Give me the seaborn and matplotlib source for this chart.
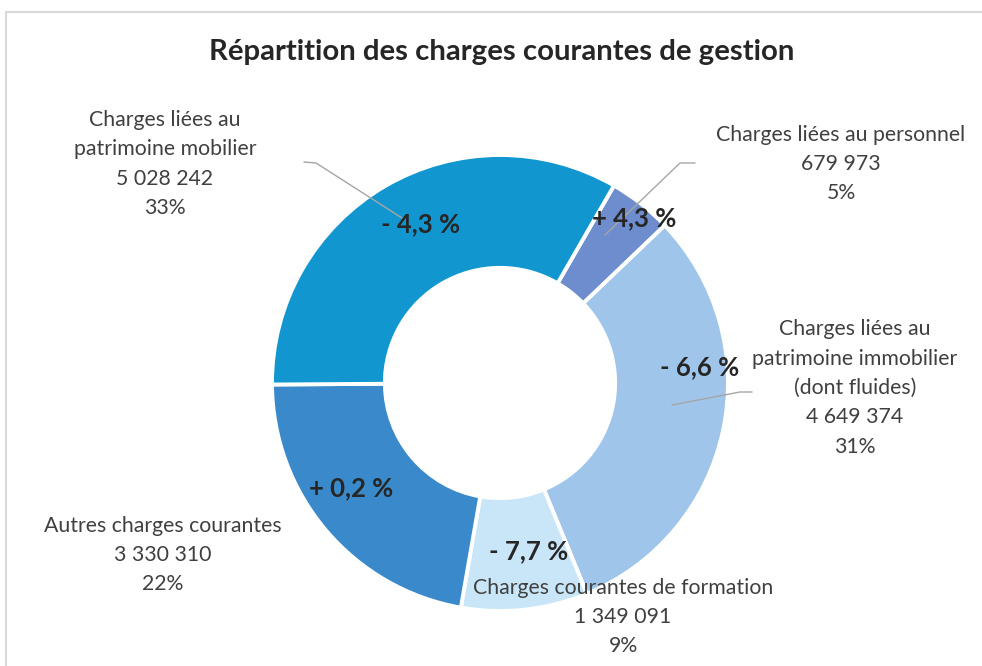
import numpy as np
import matplotlib
matplotlib.use("Agg")
import matplotlib.pyplot as plt
import seaborn as sns
from matplotlib.patches import Rectangle
from matplotlib.lines import Line2D

# ---- data ----
categories = [
    "Charges liées au personnel",
    "Charges liées au\npatrimoine immobilier\n(dont fluides)",
    "Charges courantes de formation",
    "Autres charges courantes",
    "Charges liées au\npatrimoine mobilier",
]
values = [679973, 4649374, 1349091, 3330310, 5028242]
value_labels = ["679 973", "4 649 374", "1 349 091", "3 330 310", "5 028 242"]
share_labels = ["5%", "31%", "9%", "22%", "33%"]
changes = ["+ 4,3 %", "- 6,6 %", "- 7,7 %", "+ 0,2 %", "- 4,3 %"]
colors = ["#6E8DCE", "#9FC6EA", "#C8E6F8", "#3A8ACB", "#1196CF"]
title = "Répartition des charges courantes de gestion"

sns.set_theme(style="white")
plt.rcParams["font.family"] = ["Lato", "DejaVu Sans"]

W, H = 982, 666
fig = plt.figure(figsize=(W / 100, H / 100), dpi=100)
ax = fig.add_axes([0, 0, 1, 1])

# pixel geometry
cx, cy, R = 500, 383, 228

def px(x, y):
    return (x - cx) / R, (cy - y) / R

first_slice_angle = 30
ax.pie(values, colors=colors, startangle=90 - first_slice_angle, counterclock=False,
       radius=1.0, wedgeprops=dict(width=0.495, edgecolor="white", linewidth=2.8))
ax.set_aspect("auto")
ax.set_xlim(-cx / R, (W - cx) / R)
ax.set_ylim(-(H - cy) / R, cy / R)
ax.axis("off")

# leader lines (drawn under labels)
leaders = [
    [(695, 163), (680, 163), (605, 235)],
    [(752, 392), (740, 392), (672, 405)],
    None,
    None,
    [(304, 162), (316, 163), (402, 218)],
]
for pts in leaders:
    if pts:
        xs, ys = zip(*[px(*p) for p in pts])
        ax.add_line(Line2D(xs, ys, color="#A6A6A6", lw=1.0, zorder=3))

# change labels inside the ring
fracs = np.array(values) / np.sum(values)
cum = np.cumsum(fracs) - fracs / 2
mid_cw = first_slice_angle + 360 * cum  # clockwise from top
label_r = [0.935, 0.88, 0.746, 0.80, 0.78]
label_dtheta = [1.0, -16.6, -3.4, 5.0, 3.5]
for m, r, dt, txt in zip(mid_cw, label_r, label_dtheta, changes):
    th = np.deg2rad(m + dt)
    ax.text(r * np.sin(th), r * np.cos(th), txt, ha="center", va="center",
            fontsize=18.5, fontweight="bold", color="#262626", zorder=5)

# outer category labels
label_pos = [(841, 164), (855, 388), (623, 617), (163, 555), (165, 164)]
for (x, y), cat, v, s in zip(label_pos, categories, value_labels, share_labels):
    X, Y = px(x, y)
    ax.text(X, Y, f"{cat}\n{v}\n{s}", ha="center", va="center", fontsize=15.3,
            color="#404040", linespacing=1.58, zorder=6)

# title
fig.text(502 / W, 1 - 52 / H, title, ha="center", va="center", fontsize=21.2,
         fontweight="bold", color="#262626")

# chart frame
fig.patches.append(Rectangle((6 / W, -0.1), 1.1, 1 - 12 / H + 0.1, transform=fig.transFigure,
                             fill=False, edgecolor="#D9D9D9", lw=1.5))

fig.savefig("out.png", dpi=100, facecolor="white")
